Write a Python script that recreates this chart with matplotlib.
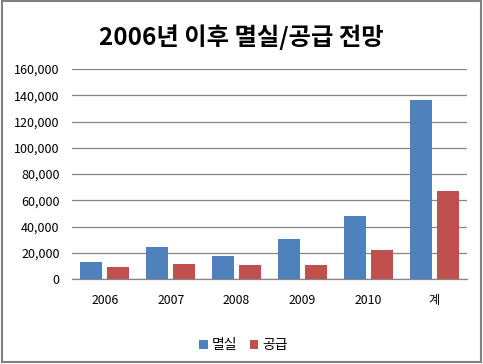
import matplotlib
matplotlib.use("Agg")
import matplotlib.pyplot as plt
import numpy as np
from matplotlib.patches import Rectangle

plt.rcParams['font.family'] = ['Noto Sans CJK KR', 'DejaVu Sans']

categories = ['2006', '2007', '2008', '2009', '2010', '계']
demolish = [13000, 24400, 17500, 30500, 48200, 136400]
supply = [9100, 11400, 10700, 10700, 22100, 67000]
series_names = ['멸실', '공급']
yticks = [0, 20000, 40000, 60000, 80000, 100000, 120000, 140000, 160000]
title = '2006년 이후 멸실/공급 전망'

fig = plt.figure(figsize=(4.83, 3.64), dpi=100)
ax = fig.add_axes([72/483, 1-279/364, 395/483, 210/364])

x = np.arange(len(categories))
w = 0.334
off = 0.205
ax.bar(x - off, demolish, w, color='#4F81BD', label=series_names[0], zorder=3)
ax.bar(x + off, supply, w, color='#C0504D', label=series_names[1], zorder=3)

ax.set_xlim(-0.5, len(categories) - 0.5)
ax.set_ylim(0, 160000)
ax.set_yticks(yticks)
ax.set_yticklabels([f'{v:,}' for v in yticks], fontsize=9)
ax.set_xticks(x)
ax.set_xticklabels(categories, fontsize=8.8)
ax.tick_params(axis='both', length=0)
ax.tick_params(axis='y', pad=9)
ax.tick_params(axis='x', pad=11)
ax.grid(axis='y', color='#868686', linewidth=0.9, zorder=0)
for s in ['top', 'right', 'left']:
    ax.spines[s].set_visible(False)
ax.spines['bottom'].set_color('#868686')
ax.spines['bottom'].set_linewidth(0.9)

fig.text(0.5, 1 - 37/364, title, ha='center', va='center', fontsize=17.5, fontweight='bold')

leg = fig.legend(loc='center', bbox_to_anchor=(243.5/483, 1 - 345/364), ncol=2, frameon=False,
                 fontsize=10, handlelength=0.6, handleheight=0.6, handletextpad=0.3, columnspacing=0.9)

fig.patches.append(Rectangle((2/483, 2/364), 479/483, 361/364, transform=fig.transFigure,
                             fill=False, edgecolor='#808080', linewidth=1.5))

fig.savefig('out.png', dpi=100)
